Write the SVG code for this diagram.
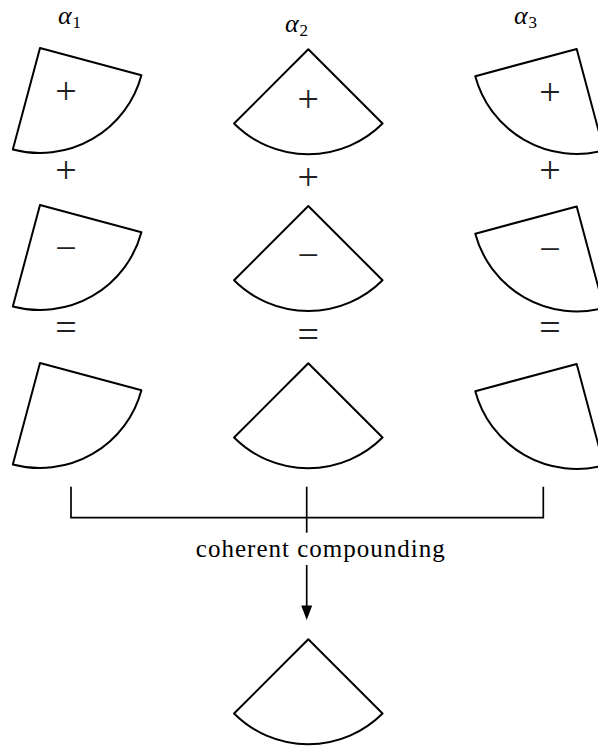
<svg xmlns="http://www.w3.org/2000/svg" width="598" height="746" viewBox="0 0 598 746">
<style>
.sec{fill:none;stroke:#000;stroke-width:2;stroke-linejoin:round}
.ln{fill:none;stroke:#000;stroke-width:1.7}
.sg{font-family:"Liberation Serif","Times New Roman",serif;font-size:38px;fill:#222;text-anchor:middle}
.lab{font-family:"Liberation Serif","Times New Roman",serif;font-size:26px;font-style:italic;fill:#000}
.sub{font-family:"Liberation Serif","Times New Roman",serif;font-size:17px;font-style:normal;fill:#000}
.cap{font-family:"Liberation Serif","Times New Roman",serif;font-size:25px;fill:#000;text-anchor:middle}
</style>
<defs>
<path id="sector" d="M0,0 L-74.25,74.25 A105,105 0 0 0 74.25,74.25 Z"/>
</defs>
<g id="labels">
<text class="lab" x="58" y="23.5">α</text><text class="sub" x="72.5" y="27.5">1</text>
<text class="lab" x="285" y="32">α</text><text class="sub" x="299.5" y="35.5">2</text>
<text class="lab" x="514" y="23.5">α</text><text class="sub" x="528.5" y="27.8">3</text>
</g>
<g id="col1">
<g id="n1-1"><use href="#sector" class="sec" transform="translate(40,48) rotate(-30)"/><text class="sg" x="66" y="103.5">+</text></g>
<text class="sg" x="66" y="182.5">+</text>
<g id="n1-2"><use href="#sector" class="sec" transform="translate(40,205) rotate(-30)"/><text class="sg" x="66" y="260.5">−</text></g>
<text class="sg" x="66" y="339.5">=</text>
<g id="n1-3"><use href="#sector" class="sec" transform="translate(40,363) rotate(-30)"/></g>
</g>
<g id="col2">
<g id="n2-1"><use href="#sector" class="sec" transform="translate(308.3,49.3)"/><text class="sg" x="308.3" y="111.8">+</text></g>
<text class="sg" x="308.3" y="190.2">+</text>
<g id="n2-2"><use href="#sector" class="sec" transform="translate(308.3,206)"/><text class="sg" x="308.3" y="268">−</text></g>
<text class="sg" x="308.3" y="346.5">=</text>
<g id="n2-3"><use href="#sector" class="sec" transform="translate(308.3,363.3)"/></g>
</g>
<g id="col3">
<g id="n3-1"><use href="#sector" class="sec" transform="translate(576.7,49) rotate(30)"/><text class="sg" x="550" y="104.5">+</text></g>
<text class="sg" x="550" y="183">+</text>
<g id="n3-2"><use href="#sector" class="sec" transform="translate(576.7,206.5) rotate(30)"/><text class="sg" x="550" y="261.5">−</text></g>
<text class="sg" x="550" y="340">=</text>
<g id="n3-3"><use href="#sector" class="sec" transform="translate(576.7,364) rotate(30)"/></g>
</g>
<g id="connectors">
<path class="ln" d="M71,486.7 V517.7 H543.3 V486.7"/>
<path class="ln" d="M306.7,486.7 V532.7"/>
<path class="ln" d="M306.7,565 V608"/>
<path d="M301.2,605.5 L306.7,620 L312.2,605.5 Z" fill="#000"/>
</g>
<text class="cap" x="320.3" y="557.3" textLength="249" lengthAdjust="spacing">coherent compounding</text>
<g id="result"><use href="#sector" class="sec" transform="translate(308.3,639.3)"/></g>
</svg>
